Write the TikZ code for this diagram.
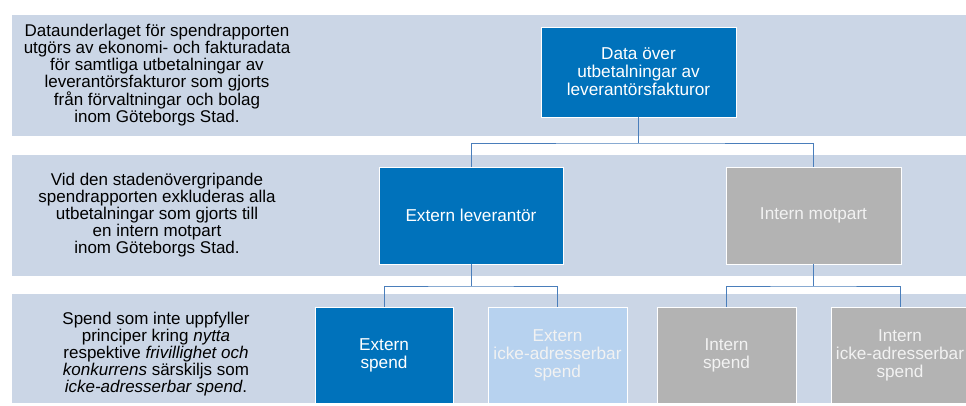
\documentclass[tikz,border=0pt]{standalone}
\usepackage{fontspec}
\setmainfont{Liberation Sans}
\definecolor{band}{RGB}{203,214,230}
\definecolor{dblue}{RGB}{0,114,187}
\definecolor{lblue}{RGB}{183,210,239}
\definecolor{gbox}{RGB}{179,179,179}
\definecolor{conn}{RGB}{74,126,187}
\definecolor{ltext}{RGB}{242,242,242}
\begin{document}
\begin{tikzpicture}[x=1pt,y=-1pt,
  bandbox/.style={fill=band,draw=none},
  desc/.style={align=center,font=\fontsize{17}{16.8}\selectfont,text=black,inner sep=0pt},
  orgbox/.style={draw=white,line width=0.8pt,align=center,font=\fontsize{17.2}{18}\selectfont,inner sep=0pt},
  darkbox/.style={orgbox,fill=dblue,text=white},
  lightbox/.style={orgbox,fill=lblue,text=ltext},
  greybox/.style={orgbox,fill=gbox,text=ltext},
  link/.style={draw=conn,line width=1pt}]
\useasboundingbox (0,0) rectangle (966,405);
\fill[white] (0,0) rectangle (966,405);
% bands
\path[bandbox] (12,15) rectangle (970,136);
\path[bandbox] (12,155) rectangle (970,276);
\path[bandbox] (12,294) rectangle (970,403);
% descriptions
\node[desc] (d1) at (157,75) {Dataunderlaget för spendrapporten\\utgörs av ekonomi- och fakturadata\\för samtliga utbetalningar av\\leverantörsfakturor som gjorts\\från förvaltningar och bolag\\inom Göteborgs Stad.};
\node[desc] (d2) at (157,215) {Vid den stadenövergripande\\spendrapporten exkluderas alla\\utbetalningar som gjorts till\\en intern motpart\\inom Göteborgs Stad.};
\node[desc] (d3) at (156,354) {Spend som inte uppfyller\\principer kring \textit{nytta}\\respektive \textit{frivillighet och}\\\textit{konkurrens} särskiljs som\\\textit{icke-adresserbar spend}.};
% boxes
\node[darkbox,minimum width=195pt,minimum height=90pt] (top) at (638.5,72) {Data över\\utbetalningar av\\leverantörsfakturor};
\node[darkbox,minimum width=184pt,minimum height=97pt] (ext) at (471,215.5) {Extern leverantör};
\node[greybox,minimum width=175pt,minimum height=97pt] (int) at (813.5,215.5) {Intern motpart};
\node[darkbox,minimum width=138pt,minimum height=96pt] (es) at (384,355) {Extern\\spend};
\node[lightbox,minimum width=139pt,minimum height=96pt] (ei) at (557.5,355) {Extern\\icke-adresserbar\\spend};
\node[greybox,minimum width=139pt,minimum height=96pt] (is) at (726.5,355) {Intern\\spend};
\node[greybox,minimum width=138pt,minimum height=96pt] (ii) at (900,355) {Intern\\icke-adresserbar\\spend};
% connectors
\coordinate (j1) at (638.5,143);
\coordinate (j2) at (471,286);
\coordinate (j3) at (813.5,286);
\draw[link] (top.south) -- (j1);
\draw[link] (ext.north) |- (j1) -| (int.north);
\draw[link] (ext.south) -- (j2);
\draw[link] (es.north) |- (j2) -| (ei.north);
\draw[link] (int.south) -- (j3);
\draw[link] (is.north) |- (j3) -| (ii.north);
\end{tikzpicture}
\end{document}
